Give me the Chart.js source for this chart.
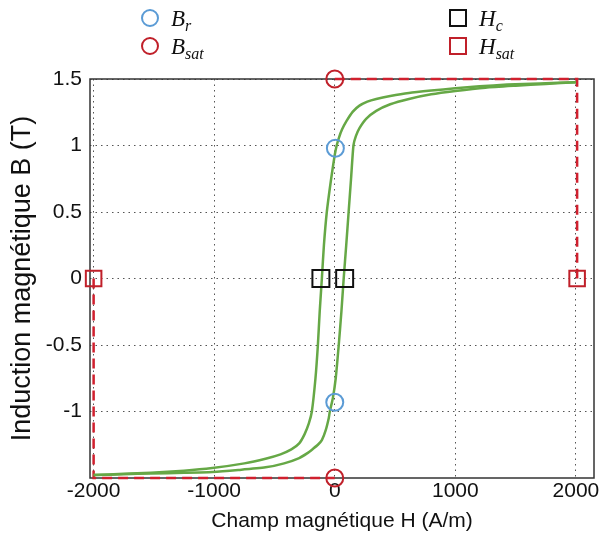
<!DOCTYPE html>
<html>
<head>
<meta charset="utf-8">
<script src="https://cdn.jsdelivr.net/npm/chart.js@4.4.1/dist/chart.umd.min.js"></script>
<style>
    body { margin: 0; background: #fff; }
    #wrap { position: relative; width: 608px; height: 536px; }
    canvas { position: absolute; left: 0; top: 0; }
    .leg { position: absolute; font: italic 23px "Liberation Serif", serif; color: #111; line-height: 22px; }
    .leg sub { font-size: 16px; vertical-align: -5px; }
    .mk { position: absolute; box-sizing: border-box; border: 2px solid; }
</style>
</head>
<body>
<div id="wrap">
    <canvas id="grafica" width="608" height="536"></canvas>
    <div id="leyenda"></div>
</div>
<script>
// 🔹 Données du cycle d'hystérésis
const hDesc = [2000, 1700, 1430, 1200, 1000, 800, 615, 460, 344, 270, 205, 150, 98, 60, 35, 16, 0, -30, -66, -90, -107, -125, -140, -160, -190, -215, -250, -295, -360, -450, -574, -750, -1016, -1250, -1525, -1750, -2000];
const bDesc = [1.475, 1.467, 1.458, 1.445, 1.43, 1.413, 1.395, 1.372, 1.35, 1.33, 1.30, 1.255, 1.185, 1.12, 1.06, 1.0, 0.93, 0.75, 0.5, 0.25, 0, -0.25, -0.5, -0.75, -1.0, -1.09, -1.17, -1.24, -1.285, -1.322, -1.355, -1.39, -1.425, -1.445, -1.46, -1.468, -1.478];

const hAsc = [-2000, -1750, -1525, -1250, -1016, -800, -574, -420, -295, -230, -180, -140, -107, -75, -50, -41, -16, 8, 33, 55, 74, 95, 115, 135, 155, 175, 205, 260, 344, 460, 615, 800, 1000, 1250, 1500, 1750, 2000];
const bAsc = [-1.478, -1.472, -1.466, -1.461, -1.455, -1.44, -1.42, -1.39, -1.35, -1.315, -1.28, -1.25, -1.215, -1.14, -1.05, -1.0, -0.9, -0.75, -0.5, -0.25, 0, 0.25, 0.5, 0.75, 1.0, 1.07, 1.13, 1.2, 1.26, 1.31, 1.35, 1.385, 1.41, 1.435, 1.45, 1.463, 1.475];

// 🔹 Points caractéristiques
const brH = [5, 0];
const brB = [0.98, -0.93];
const bsatH = [0, 0];
const bsatB = [1.5, -1.5];
const hcH = [-115, 82];
const hcB = [0, 0];
const hsatH = [-2000, 2010];
const hsatB = [0, 0];

// 🔹 Cadres de saturation (pointillés rouges)
const satHautH = [0, 2010, 2010];
const satHautB = [1.5, 1.5, 0];
const satBasH = [-2000, -2000, 0];
const satBasB = [0, -1.5, -1.5];

// 🔹 Axes
const xTicks = [-2000, -1000, 0, 1000, 2000];
const yTicks = [-1, -0.5, 0, 0.5, 1, 1.5];

const legendeItems = [
    { label: 'B', sub: 'r', color: '#5b9bd5', forme: 'circle', x: 141, y: 8 },
    { label: 'B', sub: 'sat', color: '#c0202a', forme: 'circle', x: 141, y: 36 },
    { label: 'H', sub: 'c', color: '#111', forme: 'rect', x: 449, y: 8 },
    { label: 'H', sub: 'sat', color: '#c0202a', forme: 'rect', x: 449, y: 36 }
];

function pts(xs, ys) {
    return xs.map((x, i) => ({ x: x, y: ys[i] }));
}

const rouge = '#d0202e';
const vert = '#66a846';

const cadre = {
    id: 'cadre',
    beforeDatasetsDraw(chart) {
        const a = chart.chartArea;
        const ctx = chart.ctx;
        ctx.save();
        ctx.strokeStyle = '#333';
        ctx.lineWidth = 1.5;
        ctx.strokeRect(a.left, a.top, a.right - a.left, a.bottom - a.top);
        ctx.restore();
    }
};

const ctx = document.getElementById('grafica').getContext('2d');

new Chart(ctx, {
    type: 'scatter',
    data: {
        datasets: [
            { data: pts(satHautH, satHautB), showLine: true, borderColor: rouge, borderWidth: 2.5, borderDash: [10, 6], pointRadius: 0, order: 5, clip: false },
            { data: pts(satBasH, satBasB), showLine: true, borderColor: rouge, borderWidth: 2.5, borderDash: [10, 6], pointRadius: 0, order: 5, clip: false },
            { data: pts(hDesc, bDesc), showLine: true, borderColor: vert, borderWidth: 2.5, pointRadius: 0, tension: 0.2, order: 4 },
            { data: pts(hAsc, bAsc), showLine: true, borderColor: vert, borderWidth: 2.5, pointRadius: 0, tension: 0.2, order: 4 },
            { data: pts(brH, brB), pointStyle: 'circle', pointRadius: 8.5, pointBorderWidth: 2, pointBorderColor: '#5b9bd5', pointBackgroundColor: 'transparent', order: 1, clip: false },
            { data: pts(bsatH, bsatB), pointStyle: 'circle', pointRadius: 8.5, pointBorderWidth: 2, pointBorderColor: '#c0202a', pointBackgroundColor: 'transparent', order: 1, clip: false },
            { data: pts(hcH, hcB), pointStyle: 'rect', pointRadius: 12, pointBorderWidth: 2, pointBorderColor: '#111', pointBackgroundColor: 'transparent', order: 1, clip: false },
            { data: pts(hsatH, hsatB), pointStyle: 'rect', pointRadius: 11, pointBorderWidth: 2, pointBorderColor: '#c0202a', pointBackgroundColor: 'transparent', order: 1, clip: false }
        ]
    },
    options: {
        responsive: false,
        animation: false,
        layout: { padding: { top: 79, right: 8, left: 0, bottom: 0 } },
        plugins: { legend: { display: false }, tooltip: { enabled: false } },
        scales: {
            x: {
                min: -2030,
                max: 2150,
                afterBuildTicks: s => { s.ticks = xTicks.map(v => ({ value: v })); },
                afterFit: s => { s.height = 58; },
                ticks: { color: '#111', font: { family: 'Liberation Sans', size: 21 }, padding: 1, callback: v => String(v) },
                grid: { color: '#555', lineWidth: 1, drawTicks: false },
                border: { display: false, dash: [1.5, 4] },
                title: { display: true, text: 'Champ magnétique H (A/m)', color: '#111', font: { family: 'Liberation Sans', size: 21 }, padding: { top: 0, bottom: 2 } }
            },
            y: {
                min: -1.5,
                max: 1.5,
                afterBuildTicks: s => { s.ticks = yTicks.map(v => ({ value: v })); },
                afterFit: s => { s.width = 90; },
                ticks: { color: '#111', font: { family: 'Liberation Sans', size: 21 }, padding: 8, callback: v => String(v) },
                grid: { color: '#555', lineWidth: 1, drawTicks: false },
                border: { display: false, dash: [1.5, 4] },
                title: { display: true, text: 'Induction magnétique B (T)', color: '#111', font: { family: 'Liberation Sans', size: 27 }, padding: { top: 6, bottom: 0 } }
            }
        }
    },
    plugins: [cadre]
});

// 🔹 Légende en HTML (indices)
const leyenda = document.getElementById('leyenda');
legendeItems.forEach(it => {
    const mk = document.createElement('div');
    mk.className = 'mk';
    mk.style.borderColor = it.color;
    mk.style.left = it.x + 'px';
    mk.style.top = (it.y + 1) + 'px';
    mk.style.width = '18px';
    mk.style.height = '18px';
    if (it.forme === 'circle') mk.style.borderRadius = '50%';
    leyenda.appendChild(mk);

    const txt = document.createElement('div');
    txt.className = 'leg';
    txt.style.left = (it.x + 30) + 'px';
    txt.style.top = it.y + 'px';
    txt.innerHTML = it.label + '<sub>' + it.sub + '</sub>';
    leyenda.appendChild(txt);
});
</script>
</body>
</html>
